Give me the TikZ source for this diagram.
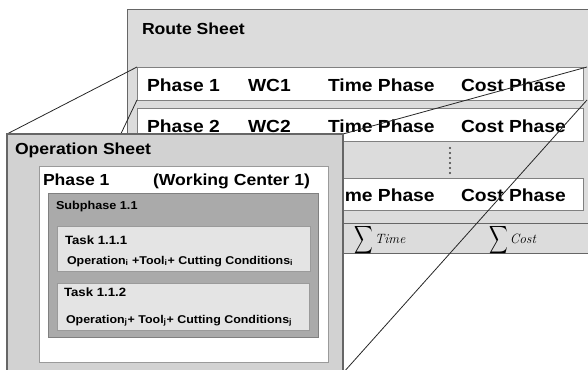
\documentclass[tikz,border=0pt]{standalone}
\usepackage{amsmath}
\usepackage{fontspec}
\newfontfamily\arialb{Liberation Sans}
\newcommand\wide[1]{\scalebox{1.1}[1]{#1}}
\definecolor{sheetgray}{HTML}{DCDCDC}
\definecolor{opgray}{HTML}{D2D2D2}
\definecolor{subgray}{HTML}{AAAAAA}
\definecolor{taskgray}{HTML}{E4E4E4}
\definecolor{edgedark}{HTML}{666666}
\definecolor{edgemid}{HTML}{808080}
\definecolor{edgelight}{HTML}{9A9A9A}
\tikzset{
  routebox/.style={fill=sheetgray, draw=edgedark, line width=1pt},
  rowbox/.style={fill=white, draw=edgemid, line width=1pt},
  sumbox/.style={fill=sheetgray, draw=edgedark, line width=1pt},
  opbox/.style={fill=opgray, draw=edgedark, line width=1.4pt},
  phasebox/.style={fill=white, draw=edgelight, line width=1pt},
  subbox/.style={fill=subgray, draw=edgemid, line width=1pt},
  taskbox/.style={fill=taskgray, draw=edgelight, line width=1pt},
  zoomline/.style={draw=black!85, line width=0.8pt},
  lbl/.style={anchor=base west, inner sep=0pt, outer sep=0pt},
  titletext/.style={lbl, font={\arialb\bfseries\fontsize{16}{18}\selectfont}},
  rowtext/.style={lbl, font={\arialb\bfseries\fontsize{17.5}{20}\selectfont}},
  subtext/.style={lbl, font={\arialb\bfseries\fontsize{11.5}{13}\selectfont}},
  tasktext/.style={lbl, font={\arialb\bfseries\fontsize{12}{14}\selectfont}},
  optext/.style={lbl, font={\arialb\bfseries\fontsize{11.3}{13}\selectfont}},
  sumtext/.style={lbl, font={\fontsize{13.5}{15}\selectfont}},
}
\newcommand\bigsigma{\raisebox{-1.5pt}{\scalebox{0.9}[1.35]{$\displaystyle\sum$}}}
\begin{document}
\begin{tikzpicture}[x=1pt, y=-1pt]
\useasboundingbox (0,0) rectangle (588,369);

% ---------- route sheet ----------
\draw[routebox] (127,10) rectangle (612,253);
\node[titletext] (rstitle) at (142,35) {\wide{Route Sheet}};

\draw[rowbox] (137,67) rectangle (583,100);
\draw[rowbox] (137,108) rectangle (583,141);
\draw[rowbox] (137,178) rectangle (583,210);
\draw[sumbox] (127,223) rectangle (612,253);

\foreach \k in {0,...,5}
  \fill[black!75] (450,148+5*\k) circle (1.1);

\foreach \r/\y/\wc in {1/91.5/WC1, 2/132.5/WC2, 3/201.5/WC3} {
  \node[rowtext] (ph\r)   at (147,\y) {\wide{Phase \r}};
  \node[rowtext] (wc\r)   at (248,\y) {\wide{\wc}};
  \node[rowtext] (time\r) at (328,\y) {\wide{Time Phase}};
  \node[rowtext] (cost\r) at (461,\y) {\wide{Cost Phase}};
}

\node[sumtext] (sumtime) at (354,243) {\bigsigma\,\itshape Time};
\node[sumtext] (sumcost) at (489,243) {\bigsigma\,\itshape Cost};

% ---------- zoom projection from phase 1 to the operation sheet ----------
\coordinate (znw) at (137,67);
\coordinate (zne) at (587,67);
\coordinate (zse) at (587,100);
\coordinate (zsw) at (137,100);
\coordinate (opnw) at (7,134);
\coordinate (opne) at (343,134);
\coordinate (opse) at (343,373);
\coordinate (opsw) at (7,373);
\draw[zoomline] (znw) -- (opnw);
\draw[zoomline] (zne) -- (opne);
\draw[zoomline] (zse) -- (opse);
\draw[zoomline] (zsw) -- (opsw);

% ---------- operation sheet ----------
\draw[opbox] (opnw) rectangle (opse);
\node[titletext] (ostitle) at (15,154) {\wide{Operation Sheet}};

\draw[phasebox] (39,166) rectangle (328,362);
\node[titletext] (opphase) at (43,185) {\wide{Phase 1}};
\node[titletext] (opwc) at (153,185) {\wide{(Working Center 1)}};

\draw[subbox] (48,193) rectangle (318,337);
\node[subtext] (subph) at (56,209) {\wide{Subphase 1.1}};

\draw[taskbox] (57,226) rectangle (310,271);
\node[tasktext] (task1) at (65,244) {\wide{Task 1.1.1}};
\node[optext] (ops1) at (67,264)
  {\wide{Operation\textsubscript{i} +Tool\textsubscript{i}+ Cutting Conditions\textsubscript{i}}};

\draw[taskbox] (57,283) rectangle (309,330);
\node[tasktext] (task2) at (64,296) {\wide{Task 1.1.2}};
\node[optext] (ops2) at (66,323)
  {\wide{Operation\textsubscript{j}+ Tool\textsubscript{j}+ Cutting Conditions\textsubscript{j}}};
\end{tikzpicture}
\end{document}
